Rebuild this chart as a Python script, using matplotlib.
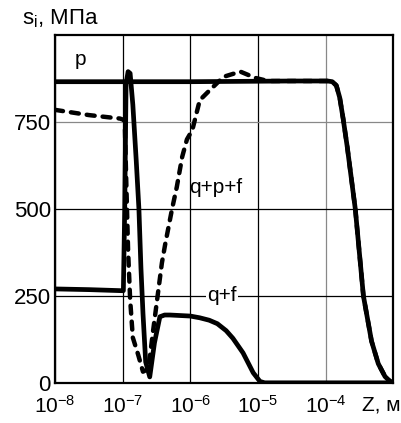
import numpy as np
import matplotlib.pyplot as plt

plt.rcParams['font.family'] = ['Liberation Sans', 'DejaVu Sans']
plt.rcParams['mathtext.default'] = 'regular'

# curve "p" : log10(z) and stress, MPa
p_logz = [-8.0, -6.0, -4.5, -3.97, -3.90, -3.84, -3.79, -3.74, -3.68, -3.56, -3.44, -3.32, -3.22, -3.12, -3.05, -3.0]
p_s = [866, 866, 868, 868, 866, 855, 820, 760, 680, 500, 250, 120, 55, 18, 5, 0]

# curve "q+f"
qf_logz = [-8.0, -7.5, -7.02, -6.99, -6.97, -6.95, -6.92, -6.89, -6.85, -6.80, -6.76, -6.73, -6.70, -6.66,
           -6.60, -6.53, -6.45, -6.38, -6.30, -6.0, -5.86, -5.72, -5.60, -5.47, -5.37, -5.22, -5.07, -4.97,
           -4.9, -3.0]
qf_s = [270, 268, 265, 265, 500, 860, 895, 890, 800, 640, 500, 330, 200, 60,
        17, 115, 190, 195, 195, 192, 187, 180, 170, 150, 128, 86, 29, 4,
        0, 0]

# curve "q+p+f"
qpf_logz = [-8.0, -7.5, -7.04, -6.97, -6.95, -6.92, -6.89, -6.85, -6.77, -6.70, -6.62, -6.55, -6.49,
            -6.42, -6.37, -6.27, -6.20, -6.12, -6.05, -5.97, -5.86, -5.71, -5.51, -5.26, -5.04, -4.85,
            -4.5, -3.97, -3.90, -3.84, -3.79, -3.74, -3.68, -3.56, -3.44, -3.32, -3.22, -3.12, -3.05, -3.0]
qpf_s = [785, 770, 760, 755, 600, 380, 240, 130, 80, 32, 40, 150, 240,
         345, 400, 500, 563, 650, 700, 727, 813, 842, 880, 895, 877, 868,
         868, 868, 866, 855, 820, 760, 680, 500, 250, 120, 55, 18, 5, 0]

xtick_pow = [-8, -7, -6, -5, -4]
ytick_vals = [0, 250, 500, 750]

fig = plt.figure(figsize=(4.02, 4.23), dpi=100)
ax = fig.add_axes([0.137, 0.095, 0.841, 0.822])

ax.plot(10.0 ** np.array(qpf_logz), qpf_s, color='black', lw=3.2, ls=(0, (1.8, 1.8)),
        dash_capstyle='round', zorder=3)
ax.plot(10.0 ** np.array(p_logz), p_s, color='black', lw=3.4, zorder=4, solid_joinstyle='round')
ax.plot(10.0 ** np.array(qf_logz), qf_s, color='black', lw=3.4, zorder=4, solid_joinstyle='round')

ax.set_xscale('log')
ax.set_xlim(1e-8, 1e-3)
ax.set_ylim(0, 1000)
ax.set_xticks([10.0 ** k for k in xtick_pow])
ax.set_xticklabels([r'$10^{%d}$' % k for k in xtick_pow], fontsize=15)
ax.xaxis.set_minor_locator(plt.NullLocator())
ax.set_yticks(ytick_vals)
ax.set_yticklabels([str(v) for v in ytick_vals], fontsize=16)
ax.tick_params(axis='x', length=0, pad=9)
ax.tick_params(axis='y', length=0, pad=3)

ax.grid(True, color='black', lw=0.9)
ax.xaxis.get_gridlines()[4].set_color('#888888')
ax.yaxis.get_gridlines()[3].set_color('#888888')
for s in ax.spines.values():
    s.set_linewidth(1.6)

ax.text(10 ** -7.63, 930, 'p', fontsize=15, ha='center', va='center')
ax.text(10 ** -6.02, 563, 'q+p+f', fontsize=15, ha='left', va='center')
ax.text(10 ** -5.53, 250, 'q+f', fontsize=15, ha='center', va='center',
        bbox=dict(facecolor='white', edgecolor='none', pad=1), zorder=5)

fig.text(0.055, 0.955, r's$_i$, MПa', fontsize=16, ha='left', va='center')
fig.text(0.997, 0.043, 'Z, м', fontsize=15, ha='right', va='center')

fig.savefig('out.png', dpi=100)
